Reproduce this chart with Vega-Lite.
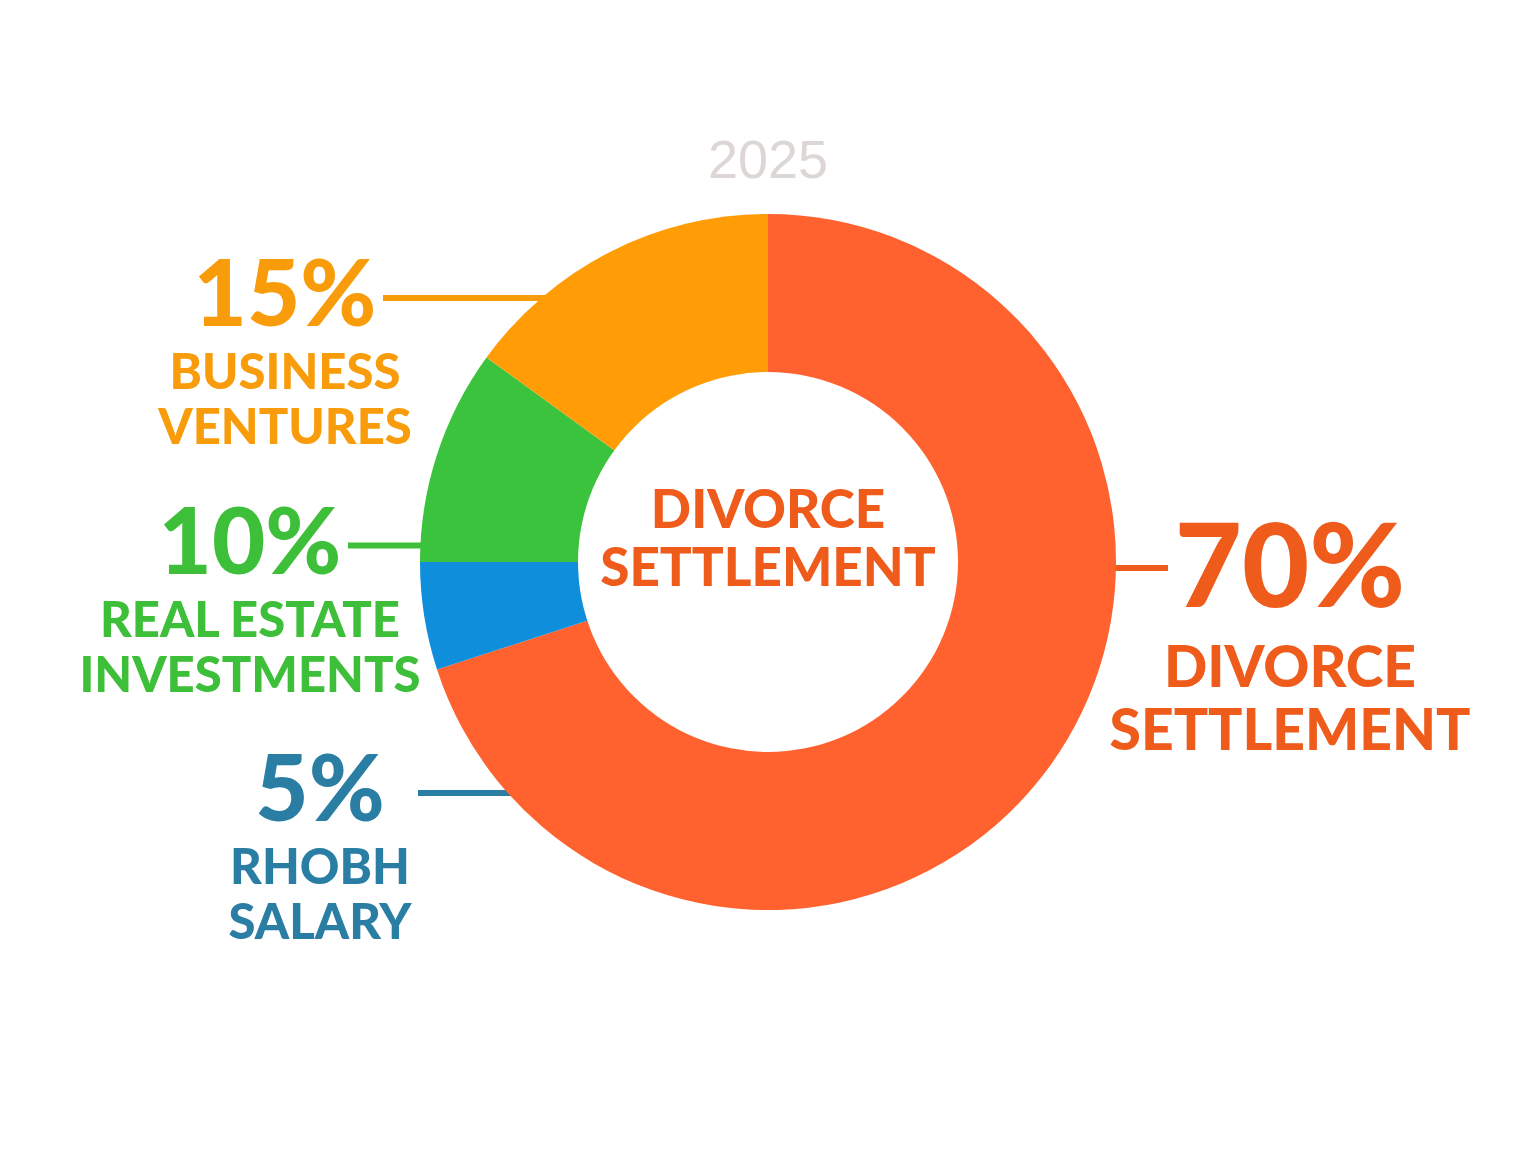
{
  "$schema": "https://vega.github.io/schema/vega-lite/v6.json",
  "width": 1536,
  "height": 1124,
  "autosize": {"type": "none"},
  "padding": 0,
  "background": "white",
  "title": {"text": "2025", "font": "Liberation Sans", "fontSize": 54, "fontWeight": "normal", "color": "#dcd7d4", "anchor": "middle", "frame": "group", "baseline": "bottom", "offset": -243},
  "config": {"view": {"stroke": null}, "font": "Lato"},
  "datasets": {
    "income": [
      {"category": "Divorce Settlement", "share": 0.70, "label": "DIVORCE|SETTLEMENT"},
      {"category": "RHOBH Salary", "share": 0.05, "label": "RHOBH|SALARY"},
      {"category": "Real Estate Investments", "share": 0.10, "label": "REAL ESTATE|INVESTMENTS"},
      {"category": "Business Ventures", "share": 0.15, "label": "BUSINESS|VENTURES"}
    ]
  },
  "data": {"name": "income"},
  "layer": [
    {
      "transform": [{"filter": "datum.category !== 'Divorce Settlement'"}],
      "encoding": {
        "x": {"field": "category", "type": "nominal", "axis": null, "scale": {"type": "point", "domain": ["Real Estate Investments", "Business Ventures", "RHOBH Salary"], "range": [250, 320], "padding": 0}},
        "y": {"field": "category", "type": "nominal", "axis": null, "scale": {"type": "point", "domain": ["Business Ventures", "Real Estate Investments", "RHOBH Salary"], "range": [298, 793], "padding": 0}},
        "color": {"field": "category", "type": "nominal", "legend": null, "scale": {"domain": ["Divorce Settlement", "RHOBH Salary", "Real Estate Investments", "Business Ventures"], "range": ["#ee5b1b", "#2a7ea3", "#3dbf3a", "#f99c0b"]}}
      },
      "layer": [
        {"mark": {"type": "rule", "strokeWidth": 6, "xOffset": 98}, "encoding": {"x2": {"value": {"expr": "width/2"}}}},
        {"mark": {"type": "text", "fontSize": 92, "fontWeight": 900, "align": "center", "baseline": "middle"}, "encoding": {"text": {"field": "share", "type": "quantitative", "format": ".0%"}}},
        {"mark": {"type": "text", "fontSize": 49, "fontWeight": 900, "align": "center", "baseline": "middle", "lineBreak": "|", "lineHeight": 55, "yOffset": 76}, "encoding": {"text": {"field": "label", "type": "nominal"}}}
      ]
    },
    {
      "transform": [{"filter": "datum.category === 'Divorce Settlement'"}],
      "encoding": {
        "x": {"field": "category", "type": "nominal", "axis": null, "scale": {"type": "point", "domain": ["Divorce Settlement"], "range": [1290, 1290]}},
        "y": {"field": "category", "type": "nominal", "axis": null, "scale": {"type": "point", "domain": ["Divorce Settlement"], "range": [572, 572]}},
        "color": {"field": "category", "type": "nominal", "legend": null, "scale": {"domain": ["Divorce Settlement"], "range": ["#ee5b1b"]}}
      },
      "layer": [
        {"mark": {"type": "rule", "strokeWidth": 6, "xOffset": -122, "yOffset": -4}, "encoding": {"x2": {"value": {"expr": "width/2"}}}},
        {"mark": {"type": "text", "fontSize": 116, "fontWeight": 900, "align": "center", "baseline": "middle"}, "encoding": {"text": {"field": "share", "type": "quantitative", "format": ".0%"}}},
        {"mark": {"type": "text", "fontSize": 57, "fontWeight": 900, "align": "center", "baseline": "middle", "lineBreak": "|", "lineHeight": 63, "yOffset": 98}, "encoding": {"text": {"field": "label", "type": "nominal"}}}
      ]
    },
    {
      "transform": [{"window": [{"op": "row_number", "as": "idx"}]}],
      "mark": {"type": "arc", "outerRadius": 348, "innerRadius": 0, "stroke": null},
      "encoding": {
        "theta": {"field": "share", "type": "quantitative", "stack": true},
        "order": {"field": "idx", "type": "quantitative", "sort": "ascending"},
        "color": {"field": "category", "type": "nominal", "legend": null, "scale": {"domain": ["Divorce Settlement", "RHOBH Salary", "Real Estate Investments", "Business Ventures"], "range": ["#ff622f", "#0e8edb", "#3cc33e", "#ff9c06"]}}
      }
    },
    {
      "transform": [{"filter": "datum.category === 'Divorce Settlement'"}],
      "mark": {"type": "arc", "theta": 0, "theta2": 6.2832, "outerRadius": 190, "innerRadius": 0, "fill": "white", "stroke": null},
      "encoding": {}
    },
    {
      "transform": [{"filter": "datum.category === 'Divorce Settlement'"}],
      "mark": {"type": "text", "fontSize": 53, "fontWeight": 900, "align": "center", "baseline": "middle", "lineBreak": "|", "lineHeight": 58, "yOffset": -50, "color": "#ee5b1b"},
      "encoding": {"text": {"field": "label", "type": "nominal"}}
    }
  ],
  "resolve": {"scale": {"x": "independent", "y": "independent", "color": "independent"}}
}
